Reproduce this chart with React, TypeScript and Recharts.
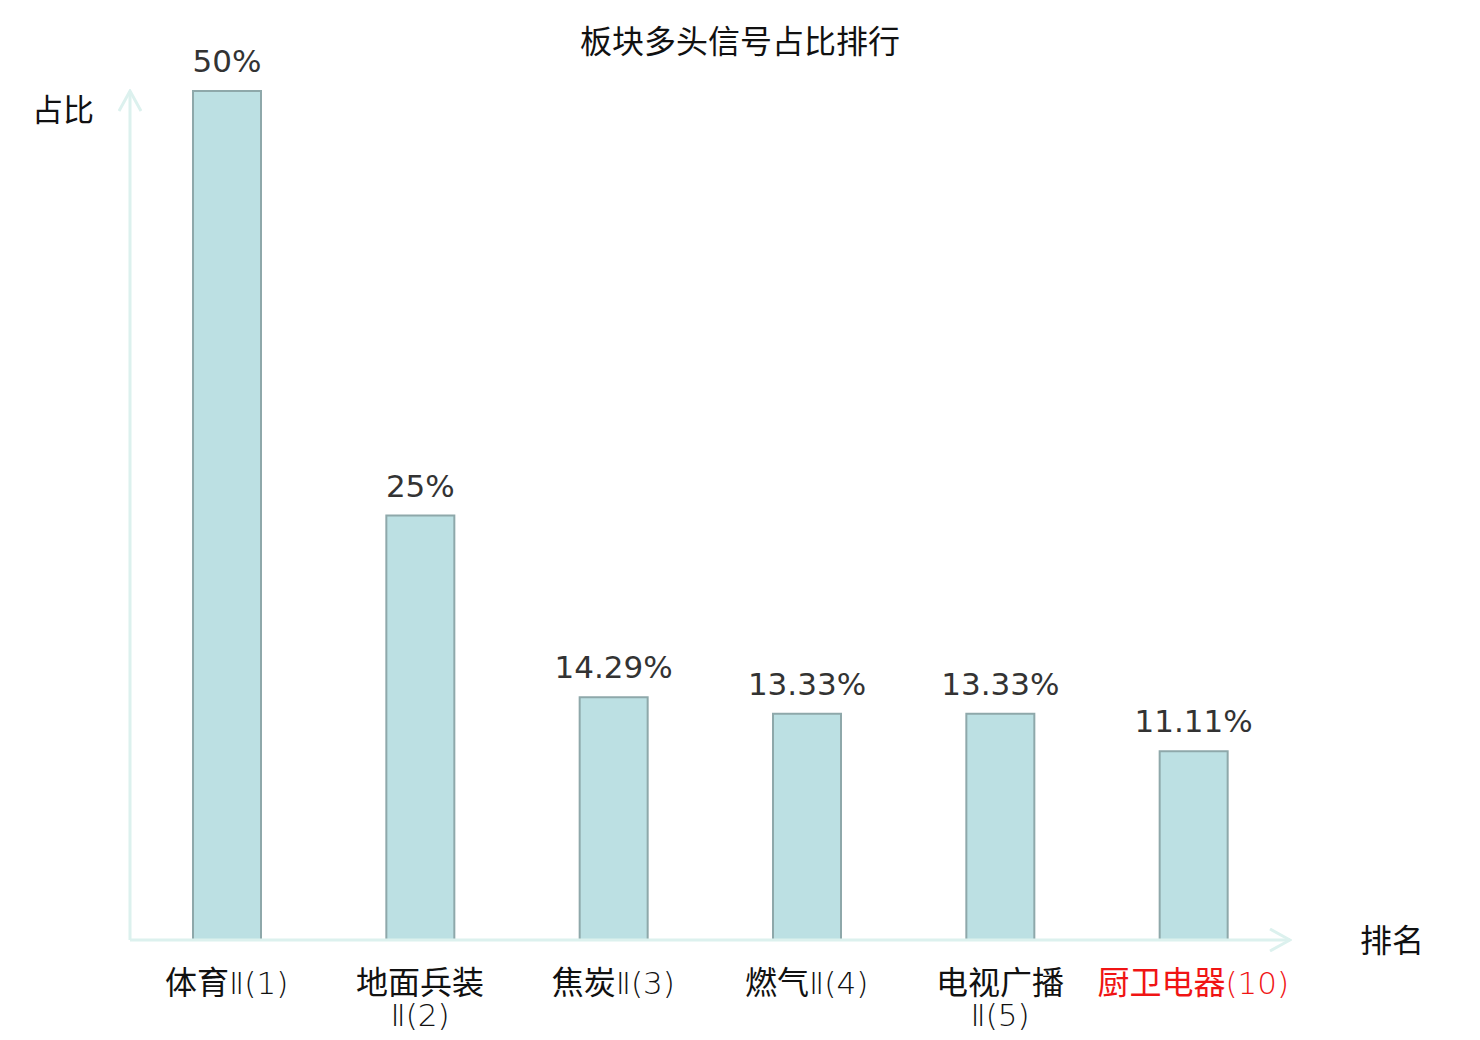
import { Bar, BarChart, LabelList, XAxis, YAxis } from 'recharts';

const categories = ['体育Ⅱ(1)', '地面兵装\nⅡ(2)', '焦炭Ⅱ(3)', '燃气Ⅱ(4)', '电视广播\nⅡ(5)', '厨卫电器(10)'];
const shares = [50, 25, 14.29, 13.33, 13.33, 11.11];
const highlighted = ['厨卫电器(10)'];

const data = categories.map((name, i) => ({ name, share: shares[i] }));

const AXIS = '#dcf1ee';
const CJK = '"Noto Sans CJK SC", "Noto Sans", sans-serif';
const LATIN_THIN = '"DejaVu Sans", sans-serif';

// Han characters in the CJK face, everything else (Ⅱ, digits, brackets) in thin DejaVu.
const splitRuns = (s: string) => s.match(/[\u4e00-\u9fff]+|[^\u4e00-\u9fff]+/g) ?? [];
const isHan = (s: string) => /[\u4e00-\u9fff]/.test(s);

function CategoryTick({ x, y, payload }: any) {
  const lines = String(payload.value).split('\n');
  const hot = highlighted.includes(payload.value);
  return (
    <text x={x} y={y} textAnchor="middle" fontSize={32} fill={hot ? '#f01414' : '#111'}>
      {lines.map((line, i) => (
        <tspan key={i} x={x} dy={i === 0 ? 46 : 32}>
          {splitRuns(line).map((run, j) =>
            isHan(run) ? (
              <tspan key={j} fontFamily={CJK}>{run}</tspan>
            ) : (
              <tspan key={j} fontFamily={LATIN_THIN} fontWeight={200} fontSize={31}>{run}</tspan>
            ),
          )}
        </tspan>
      ))}
    </text>
  );
}

export default function App() {
  return (
    <div style={{ position: 'absolute', left: 0, top: 0, width: 1480, height: 1040, background: '#fff' }}>
      <BarChart
        width={1480}
        height={1040}
        data={data}
        margin={{ top: 91, right: 190, bottom: 10, left: 70 }}
        barCategoryGap={0}
      >
        <defs>
          <marker
            id="axisArrow"
            viewBox="0 0 24 24"
            refX="22"
            refY="12"
            markerWidth="24"
            markerHeight="24"
            markerUnits="userSpaceOnUse"
            orient="auto-start-reverse"
          >
            <path d="M2 1 L22 12 L2 23" fill="none" stroke={AXIS} strokeWidth={3} />
          </marker>
        </defs>
        <text x={740} y={53} textAnchor="middle" fontFamily={CJK} fontSize={32} fill="#111">
          板块多头信号占比排行
        </text>
        <text x={63} y={121} textAnchor="middle" fontFamily={CJK} fontSize={31} fill="#111">
          占比
        </text>
        <text x={1392} y={952} textAnchor="middle" fontFamily={CJK} fontSize={32} fill="#111">
          排名
        </text>
        <XAxis
          dataKey="name"
          height={90}
          interval={0}
          tickLine={false}
          axisLine={{ stroke: AXIS, strokeWidth: 3, markerEnd: 'url(#axisArrow)' }}
          tick={<CategoryTick />}
        />
        <YAxis
          width={60}
          domain={[0, 50]}
          tick={false}
          tickLine={false}
          axisLine={{ stroke: AXIS, strokeWidth: 3, markerStart: 'url(#axisArrow)' }}
        />
        <Bar dataKey="share" barSize={68} fill="#bce0e3" stroke="#8ea8aa" strokeWidth={2} isAnimationActive={false}>
          <LabelList
            dataKey="share"
            position="top"
            offset={19}
            formatter={(v: any) => `${v}%`}
            style={{ fontFamily: '"DejaVu Sans", sans-serif', fontSize: 31, fill: '#333' }}
          />
        </Bar>
      </BarChart>
    </div>
  );
}
